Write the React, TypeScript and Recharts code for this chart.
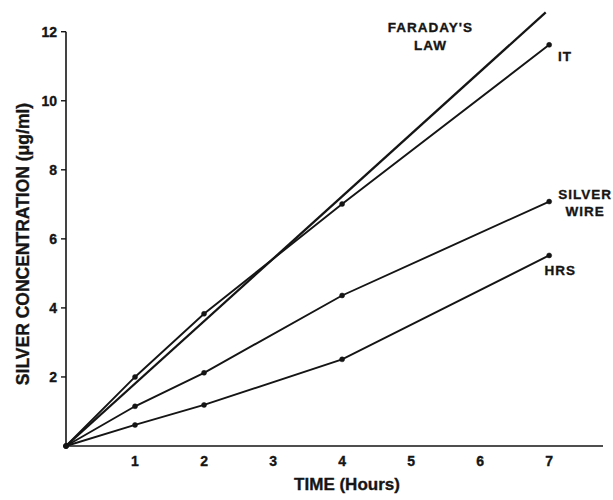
import { LineChart, Line, XAxis, YAxis, ReferenceLine, ReferenceDot } from "recharts"

// hours at which samples were taken
const times = [0, 1, 2, 4, 7]
const itValues = [0, 2.0, 3.83, 7.01, 11.62]
const wireValues = [0, 1.15, 2.12, 4.36, 7.08]
const hrsValues = [0, 0.61, 1.19, 2.51, 5.52]

// theoretical line (Faraday's law), drawn from origin to past the top tick
const faradayTimes = [0, 6.95]
const faradayValues = [0, 12.56]

const xTicks = [1, 2, 3, 4, 5, 6, 7]
const yTicks = [2, 4, 6, 8, 10, 12]

const curveLabels = [
  { x: 5.28, y: 12.12, text: "FARADAY'S" },
  { x: 5.28, y: 11.6, text: "LAW" },
  { x: 7.23, y: 11.28, text: "IT" },
  { x: 7.52, y: 7.28, text: "SILVER" },
  { x: 7.52, y: 6.8, text: "WIRE" },
  { x: 7.16, y: 5.1, text: "HRS" },
]

const toRows = (xs: number[], ys: number[]) => xs.map((t, i) => ({ t, v: ys[i] }))

const ink = "#151515"
const font = "'Liberation Sans', Arial, sans-serif"
const heavy = { fill: ink, stroke: ink, strokeWidth: 0.35, fontWeight: 700, fontFamily: font }

export default function App() {
  const series = [
    { name: "IT", data: toRows(times, itValues) },
    { name: "Silver wire", data: toRows(times, wireValues) },
    { name: "HRS", data: toRows(times, hrsValues) },
  ]

  return (
    <div style={{ width: 613, height: 500, background: "#fff" }}>
      <style>{"body{margin:0}"}</style>
      <LineChart width={613} height={500} margin={{ top: 11, right: 10, bottom: 0, left: 0 }}>
        <XAxis
          type="number"
          dataKey="t"
          domain={[0, 7.78]}
          ticks={xTicks}
          allowDuplicatedCategory={false}
          height={54}
          tickLine={false}
          tickSize={0}
          tickMargin={10}
          axisLine={{ stroke: ink, strokeWidth: 1.5 }}
          tick={{ ...heavy, fontSize: 14 }}
          label={{
            content: () => (
              <text x={347} y={490} textAnchor="middle" {...heavy} fontSize={17}>
                TIME (Hours)
              </text>
            ),
          }}
        />
        <YAxis
          type="number"
          dataKey="v"
          domain={[0, 12.6]}
          ticks={yTicks}
          width={66}
          axisLine={false}
          tickSize={5}
          tickMargin={4}
          tickLine={{ stroke: ink, strokeWidth: 1.4 }}
          tick={{ ...heavy, fontSize: 14 }}
          label={{
            content: () => (
              <text
                x={29}
                y={244}
                transform="rotate(-90 29 244)"
                textAnchor="middle"
                {...heavy}
                fontSize={17.5}
              >
                SILVER CONCENTRATION (μg/ml)
              </text>
            ),
          }}
        />
        <ReferenceLine
          segment={[{ x: 0, y: 0 }, { x: 0, y: 12 }]}
          stroke={ink}
          strokeWidth={1.6}
        />
        <Line
          data={toRows(faradayTimes, faradayValues)}
          dataKey="v"
          stroke={ink}
          strokeWidth={2.3}
          dot={false}
          isAnimationActive={false}
        />
        {series.map((s) => (
          <Line
            key={s.name}
            data={s.data}
            dataKey="v"
            name={s.name}
            stroke={ink}
            strokeWidth={1.9}
            dot={{ r: 2.5, fill: ink, stroke: ink, strokeWidth: 0.5 }}
            isAnimationActive={false}
          />
        ))}
        {curveLabels.map((l) => (
          <ReferenceDot
            key={l.text}
            x={l.x}
            y={l.y}
            r={0}
            stroke="none"
            label={{
              value: l.text,
              position: "center",
              ...heavy,
              fontSize: 13.5,
              letterSpacing: 1,
            }}
          />
        ))}
      </LineChart>
    </div>
  )
}
